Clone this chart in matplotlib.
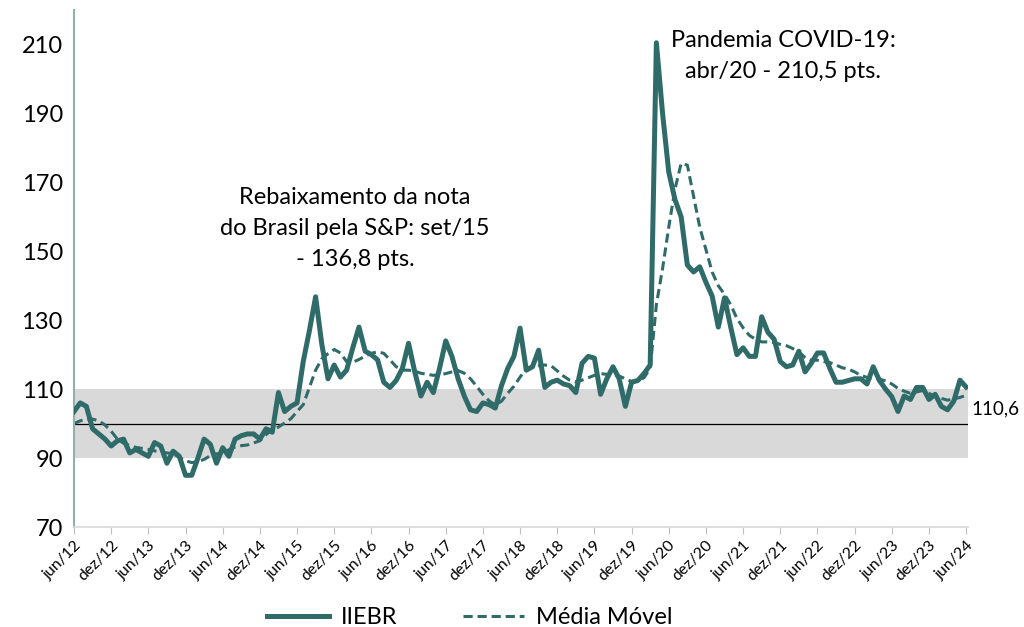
import matplotlib
matplotlib.use("Agg")
import matplotlib.pyplot as plt
import numpy as np

plt.rcParams['font.family'] = ['Lato', 'DejaVu Sans']

# monthly values, jun/12 .. jun/24
iiebr = [
    103.5, 106, 105, 98.5, 97, 95.5, 93.5,                                   # 2012 (jun-dez)
    95, 95.5, 91.5, 92.5, 91.5, 90.5, 94.5, 93.5, 88.5, 92, 90.5, 85,        # 2013
    85, 90, 95.5, 94, 88.5, 93, 90.5, 95.5, 96.5, 97, 97, 95.5,              # 2014
    98.5, 97.5, 109, 103.5, 105, 106, 118, 127, 136.8, 123, 113, 117,        # 2015
    113.5, 115.5, 122, 128, 121, 120, 118.5, 112, 110.5, 112.5, 116, 123.3,  # 2016
    115, 108, 112, 109, 116, 124, 119.5, 113, 108, 104, 103.5, 106,          # 2017
    105.5, 104.5, 111, 116, 119.5, 127.7, 115.5, 116.5, 121.3, 110.5, 112, 112.6,  # 2018
    111.5, 111, 109, 117.5, 119.5, 119, 108.5, 113, 116.5, 113, 105, 112,    # 2019
    112.5, 114.5, 117, 210.5, 190, 173, 165, 160, 146, 144, 145.5, 141,      # 2020
    137, 128, 136.5, 128, 120, 122, 119.5, 119.5, 131, 126.5, 124.5, 118,    # 2021
    116.5, 117, 121, 115, 117.5, 120.5, 120.5, 116, 112, 112, 112.5, 113,    # 2022
    113, 111.5, 116.5, 112.5, 110, 107.8, 103.5, 108, 107, 110.5, 110.5, 107,  # 2023
    108.5, 105, 104, 106.5, 112.6, 110.6,                                    # 2024 (jan-jun)
]

media_movel = [
    100, 100.8, 101.2, 101.3, 100.8, 99.6, 97.8,
    95.5, 94.3, 93.6, 93.1, 92.8, 92.5, 92.1, 91.7, 91.5, 91.3, 90.2, 89.2,
    88.7, 89, 89.6, 90.7, 91.2, 91.6, 92.4, 93.2, 93.6, 93.8, 94.4, 95,
    96.8, 98.3, 99, 100.2, 101.4, 103.5, 105.5, 110.5, 115.5, 118.8, 120.3, 121.5,
    120.5, 118, 117.8, 118.6, 119.6, 120.4, 120.8, 120.4, 118.5, 116.5, 115.5, 115.5,
    115.2, 114.6, 114.3, 114, 114.2, 114.5, 115, 115.4, 114.6, 113, 110.8, 108.5,
    106.6, 105.4, 106.5, 108.8, 110.8, 113.5, 115.8, 116.4, 116.8, 117, 116.8, 115.3,
    113.8, 112.6, 112.1, 112.6, 113.3, 114, 114.5, 114.3, 114, 113.8, 113, 112.2,
    112.4, 113.3, 116, 134.5, 145, 157, 168, 175.5, 175, 166, 157, 150.5,
    144, 140, 137.5, 134.5, 130.5, 127.8, 125.6, 124.5, 123.7, 123.7, 123.5, 123,
    122.6, 121.8, 120.8, 119.2, 118.4, 118.4, 118, 117.7, 117, 116.2, 115.8, 115,
    114, 113.4, 113.2, 112.9, 112.4, 111.5, 110.2, 109.4, 108.8, 109.2, 109.6, 108.8,
    107.8, 107.3, 106.8, 107.1, 107.6, 108.2,
]

tick_labels = []
for yy in range(12, 25):
    tick_labels.append("jun/%d" % yy)
    if yy < 24:
        tick_labels.append("dez/%d" % yy)

band = (90, 110)
ref_level = 100
last_label = "110,6"

color = '#2f6b68'
x = np.arange(len(iiebr))

fig = plt.figure(figsize=(10.24, 6.27), dpi=100)
ax = fig.add_axes([74/1024, 1-527/627, (968-74)/1024, (527-10)/627])

ax.axhspan(band[0], band[1], color='#d9d9d9', zorder=0, lw=0)
ax.axhline(ref_level, color='black', lw=0.9, zorder=1)
ax.plot(x, iiebr, color=color, lw=3.6, solid_joinstyle='round', zorder=3, label='IIEBR')
ax.plot(x, media_movel, color=color, lw=2.2, dashes=(3, 1.6), zorder=2, label='Média Móvel')

ax.set_xlim(0, 144.3)
ax.set_ylim(70, 220)
ax.set_yticks(np.arange(70, 211, 20))
ax.set_xticks(np.arange(0, 145, 6))
ax.set_xticklabels(tick_labels, rotation=45, ha='right', rotation_mode='anchor', fontsize=11.5)
ax.tick_params(axis='y', length=0, labelsize=17, pad=8)
ax.tick_params(axis='x', length=5, color='#bfbfbf', pad=3)

for s in ['top', 'right']:
    ax.spines[s].set_visible(False)
ax.spines['left'].set_color('#8fb0ad')
ax.spines['left'].set_linewidth(1.5)
ax.spines['bottom'].set_color('#d9d9d9')
ax.spines['bottom'].set_linewidth(1.2)

ax.annotate(last_label, xy=(x[-1], iiebr[-1]), xytext=(4, -16), textcoords='offset points',
            fontsize=13.5, va='center', ha='left', annotation_clip=False)

fig.text(355/1024, 1-187/627, "Rebaixamento da nota\ndo Brasil pela S&P: set/15\n- 136,8 pts.",
         ha='center', va='top', fontsize=17, linespacing=1.6)
fig.text(783/1024, 1-30/627, "Pandemia COVID-19:\nabr/20 - 210,5 pts.",
         ha='center', va='top', fontsize=17, linespacing=1.6)

fig.legend(loc='center', bbox_to_anchor=(470/1024, 1-618/627), ncol=2, frameon=False,
           fontsize=17, handlelength=2.6, columnspacing=2.8, handletextpad=0.5)

fig.savefig("out.png", dpi=100)
